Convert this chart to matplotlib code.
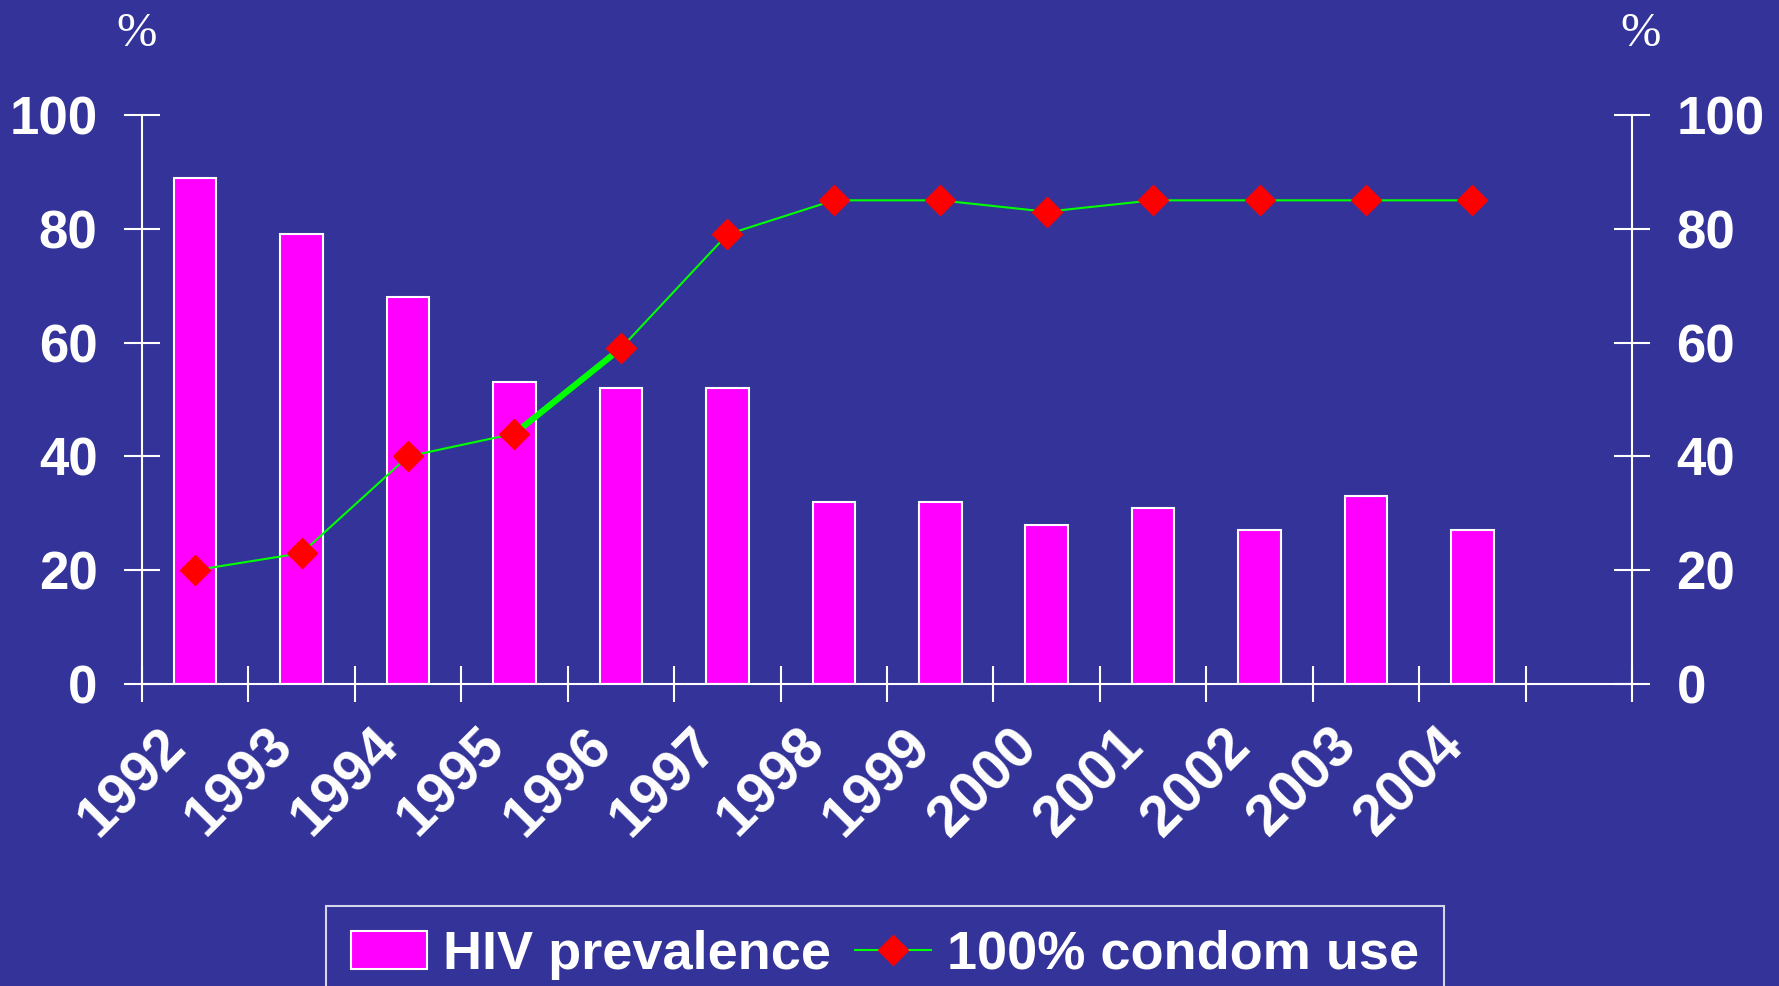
import numpy as np
import matplotlib.pyplot as plt
from matplotlib.transforms import ScaledTranslation

years = ['1992', '1993', '1994', '1995', '1996', '1997', '1998',
         '1999', '2000', '2001', '2002', '2003', '2004']
hiv = [89, 79, 68, 53, 52, 52, 32, 32, 28, 31, 27, 33, 27]
condom = [20, 23, 40, 44, 59, 79, 85, 85, 83, 85, 85, 85, 85]
yticks = [0, 20, 40, 60, 80, 100]

bg = '#333399'
plt.rcParams['font.family'] = ['Liberation Sans', 'DejaVu Sans']
plt.rcParams['font.weight'] = 'bold'

fig = plt.figure(figsize=(17.79, 9.86), dpi=100)
fig.patch.set_facecolor(bg)
ax = fig.add_axes([0.0798, 0.3063, 0.8376, 0.5771])
ax.set_facecolor(bg)

x = np.arange(len(years))
bars = ax.bar(x, hiv, width=0.4, color='#ff00ff', edgecolor='white',
              linewidth=1.5, label='HIV prevalence', zorder=2)

ax2 = ax.twinx()
ax2.set_facecolor('none')
line, = ax2.plot(x, condom, color='#00ff00', lw=1.5, marker='D', ms=15,
                 mfc='red', mec='red', label='100% condom use', zorder=3)
# the 1995-1996 segment is drawn thicker in the original
ax2.plot(x[3:5], condom[3:5], color='#00ff00', lw=4.5, zorder=2.5)

for a in (ax, ax2):
    a.set_ylim(0, 100)
    a.set_xlim(-0.5, len(years) + 0.5)
    a.set_yticks(yticks)
    for s in a.spines.values():
        s.set_color('white')
        s.set_linewidth(1.5)
    a.spines['top'].set_visible(False)
    a.tick_params(axis='y', colors='white', direction='inout', length=26,
                  width=1.5, labelsize=38, pad=19)

ax.spines['right'].set_visible(False)
ax2.spines['left'].set_visible(False)
ax2.spines['bottom'].set_visible(False)

ax.set_xticks(x)
ax.set_xticklabels(years, rotation=45, ha='right', va='top',
                   rotation_mode='anchor')
ax.tick_params(axis='x', which='major', length=0, colors='white',
               labelsize=41, pad=25)
ax.set_xticks(np.arange(-0.5, len(years) + 1, 1), minor=True)
ax.tick_params(axis='x', which='minor', direction='inout', length=26,
               width=1.5, color='white')
shift = ScaledTranslation(-0.37, 0, fig.dpi_scale_trans)
for lab in ax.get_xticklabels():
    lab.set_transform(lab.get_transform() + shift)

fig.text(0.0765, 0.966, '%', color='white', fontsize=35,
         family='Liberation Serif', weight='normal', ha='center', va='center')
fig.text(0.922, 0.966, '%', color='white', fontsize=35,
         family='Liberation Serif', weight='normal', ha='center', va='center')

leg = fig.legend([bars, line], ['HIV prevalence', '100% condom use'],
                 loc='upper center', bbox_to_anchor=(0.4975, 0.109), ncol=2,
                 fontsize=39, frameon=True, fancybox=False, handlelength=1.4,
                 handletextpad=0.3, columnspacing=0.45, borderpad=0.45)
leg.get_frame().set_facecolor('none')
leg.get_frame().set_edgecolor('white')
leg.get_frame().set_linewidth(1.5)
for t in leg.get_texts():
    t.set_color('white')

fig.savefig('out.png', dpi=100, facecolor=bg)
